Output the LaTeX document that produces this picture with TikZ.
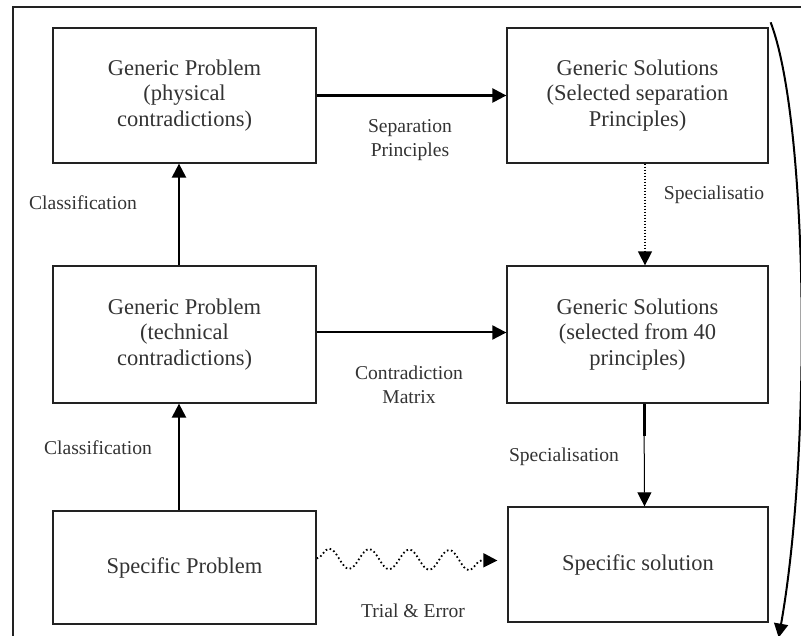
\documentclass[tikz,border=0pt]{standalone}
\usepackage{fontspec}
\setmainfont{Liberation Serif}
\usetikzlibrary{arrows.meta,decorations.pathmorphing}
\definecolor{ink}{HTML}{222222}
\definecolor{txt}{HTML}{333333}
\begin{document}
\begin{tikzpicture}[x=1pt,y=-1pt,
  box/.style={draw=ink,line width=1.3pt,rectangle,align=center,text=txt,
    font=\fontsize{22.5}{25.5}\selectfont,inner sep=0pt},
  lbl/.style={align=center,text=txt,font=\fontsize{19.6}{24}\selectfont,inner sep=0pt},
  arr/.style={draw=black,line width=2.4pt,-{Triangle[length=14pt,width=14pt]}},
  thinarr/.style={draw=black,line width=1pt,-{Triangle[length=14pt,width=14pt]}}]
\useasboundingbox (0,0) rectangle (801,636);
\draw[ink,line width=1.4pt] (801,7) -- (13,7) -- (13,636);

\node[box,minimum width=263pt,minimum height=135pt] (A) at (184.5,95.5) {Generic Problem\\(physical\\contradictions)};
\node[box,minimum width=261pt,minimum height=135pt] (B) at (637.5,95.5) {Generic Solutions\\(Selected separation\\Principles)};
\node[box,minimum width=263pt,minimum height=137pt] (C) at (184.5,334.5) {Generic Problem\\(technical\\contradictions)};
\node[box,minimum width=261pt,minimum height=137pt] (D) at (637.5,334.5) {Generic Solutions\\(selected from 40\\principles)};
\node[box,minimum width=263pt,minimum height=113pt] (E) at (184.5,567.5) {Specific Problem};
\node[box,minimum width=260pt,minimum height=115pt] (F) at (638,564.5) {Specific solution};

\draw[arr] (A) -- (B);
\draw[arr,line width=2pt] ([yshift=2pt]C.east) -- ([yshift=2pt]D.west);
\draw[arr] ([xshift=-5.5pt]C.north) -- ([xshift=-5.5pt]A.south);
\draw[arr] ([xshift=-5.5pt]E.north) -- ([xshift=-5.5pt]C.south);
\draw[thinarr,line width=1.5pt,dash pattern=on 1.5pt off 1.5pt] ([xshift=7.5pt]B.south) -- ([xshift=7.5pt]D.north);
\draw[black,line width=3pt] ([xshift=6.5pt]D.south) -- ++(0,32);
\draw[thinarr] ([xshift=6.5pt]D.south) -- ([xshift=6.5pt]F.north);
\draw[arr,line width=2pt] ([xshift=2pt,yshift=5pt]B.north east) .. controls (808,120) and (812,450) .. ([xshift=10pt,yshift=-15pt]F.south east);
\draw[line width=1.8pt,dash pattern=on 1.6pt off 2.6pt,-{Triangle[length=14pt,width=14pt]},
  decorate,decoration={snake,amplitude=10pt,segment length=40pt,post length=12pt}]
  ([yshift=9pt]E.east) -- ([xshift=-10pt,yshift=4pt]F.west);

\node[lbl] (l1) at (410,140) {Separation\\Principles};
\node[lbl] (l2) at (409,385) {Contradiction\\Matrix};
\node[lbl] (l3) at (83,203) {Classification};
\node[lbl] (l4) at (98,448) {Classification};
\node[lbl] (l5) at (714,195) {Specialisatio};
\node[lbl] (l6) at (564,457) {Specialisation};
\node[lbl] (l7) at (413,611) {Trial \& Error};
\end{tikzpicture}
\end{document}
